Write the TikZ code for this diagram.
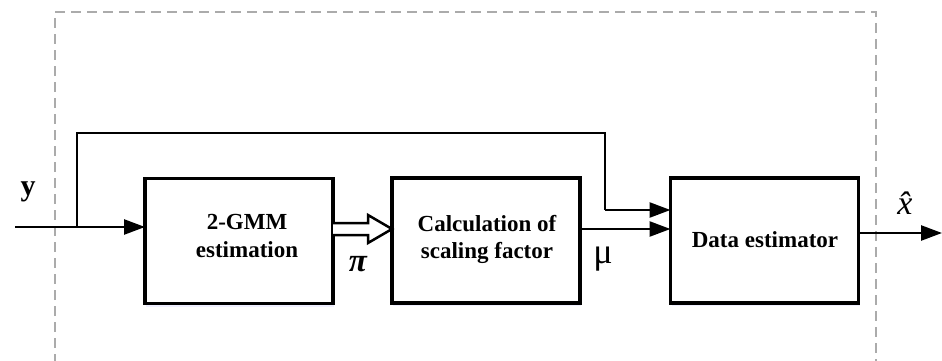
\documentclass[tikz,border=0pt]{standalone}
\usepackage{fontspec}
\setmainfont{Liberation Serif}
\usetikzlibrary{arrows.meta,calc,shadows}
\tikzset{
  blk/.style={draw=black, line width=3.8pt, minimum width=188pt, minimum height=125pt,
    outer sep=0pt, fill=white,
    drop shadow={shadow xshift=1pt, shadow yshift=-3pt, fill=blue!25, opacity=0.25}},
  txt/.style={font=\fontsize{23}{27.5}\selectfont\bfseries, align=center, inner sep=0pt},
  conn/.style={line width=2.5pt},
  arr/.style={conn, -{Triangle[length=21pt,width=15pt]}},
  hollow/.style={line width=2.5pt, line join=miter, fill=white},
  frame/.style={draw=black!33, line width=1.2pt, dash pattern=on 10pt off 6pt}
}
\begin{document}
\begin{tikzpicture}[x=1pt,y=-1pt]
\useasboundingbox (0,0) rectangle (942,361);
% dashed frame (open at bottom)
\draw[frame] (55,380) -- (55,12) -- (876,12) -- (876,380);
% blocks
\node[blk] (b1) at (239,241) {};
\node[blk] (b2) at (486,240.5) {};
\node[blk] (b3) at (764.5,240.5) {};
\node[txt] (t1) at (247,236) {2-GMM\\estimation};
\node[txt] (t2) at (487,239.5) {Calculation of\\scaling factor};
\node[txt] (t3) at (765,240) {Data estimator};
% input
\coordinate (in) at (15,227);
\coordinate (br) at (77,227);
\coordinate (tl) at (77,133);
\coordinate (tr) at (605,133);
\coordinate (tj) at (605,210);
\draw[arr] (in) -- (in -| b1.west);
\draw[conn, line join=miter] (br) -- (tl) -- (tr) -- (tj);
\draw[arr] (tj) -- (tj -| b3.west);
% hollow double arrow (pi)
\coordinate (pa) at ($(b1.east)+(0,-12)$);
\coordinate (pb) at ($(b2.west)+(0,-11.5)$);
\draw[hollow] ($(pa)+(0,-6)$) -- ($(pb)+(-24,-6)$) -- ($(pb)+(-24,-14)$) -- (pb)
  -- ($(pb)+(-24,14)$) -- ($(pb)+(-24,6)$) -- ($(pa)+(0,6)$);
% mu arrow
\coordinate (ma) at ($(b2.east)+(0,-11.5)$);
\draw[arr] (ma) -- (ma -| b3.west);
% output
\coordinate (oa) at ($(b3.east)+(0,-7.5)$);
\coordinate (out) at (942,233);
\draw[arr] (oa) -- (out);
% labels
\node[font=\fontsize{30}{30}\selectfont\bfseries, inner sep=0pt] (ly) at (28,192) {y};
\node[font=\fontsize{33}{33}\selectfont\bfseries\itshape, inner sep=0pt] (lpi) at (358,264) {π};
\node[font=\fontsize{36}{36}\selectfont, inner sep=0pt] (lmu) at (603,259) {μ};
\node[font=\fontsize{34}{34}\selectfont\itshape, inner sep=0pt] (lx) at (905,203) {x̂};
\end{tikzpicture}
\end{document}
